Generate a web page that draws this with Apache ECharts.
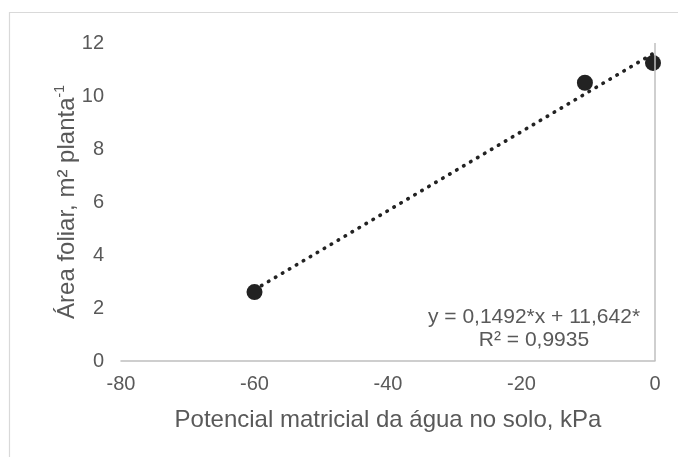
<!DOCTYPE html>
<html>
<head>
<meta charset="utf-8">
<script src="https://cdn.jsdelivr.net/npm/echarts@6/dist/echarts.min.js"></script>
<style>
  html, body { margin: 0; padding: 0; background: #fff; }
  #chart { width: 678px; height: 457px; }
</style>
</head>
<body>
<div id="chart"></div>
<script>
// Observed leaf area against soil matric potential
const potencialKPa = [-60, -10.5, -0.3];
const areaFoliar = [2.6, 10.5, 11.25];

// Linear fit reported for the data
const slope = 0.1492;
const intercept = 11.642;
const equationLines = ['y = 0,1492*x + 11,642*', 'R² = 0,9935'];

const xTicks = { min: -80, max: 0, interval: 20 };
const yTicks = { min: 0, max: 12, interval: 2 };

const FONT = '"Liberation Sans", Arial, sans-serif';
const TEXT = '#595959';
const AXIS = '#bfbfbf';
const MARK = '#222222';

const points = potencialKPa.map((x, i) => [x, areaFoliar[i]]);
const xFitMin = Math.min(...potencialKPa);
const xFitMax = Math.max(...potencialKPa);
const fitLine = [xFitMin, xFitMax].map(x => [x, slope * x + intercept]);

const chart = echarts.init(document.getElementById('chart'), null, { renderer: 'canvas' });

chart.setOption({
  animation: false,
  backgroundColor: '#fff',
  grid: { left: 121, right: 23, top: 43, bottom: 96, containLabel: false },
  xAxis: {
    type: 'value',
    min: xTicks.min, max: xTicks.max, interval: xTicks.interval,
    name: 'Potencial matricial da água no solo, kPa',
    nameLocation: 'middle',
    nameGap: 47,
    nameMoveOverlap: false,
    nameTextStyle: { fontFamily: FONT, fontSize: 24, color: TEXT },
    axisLine: { show: true, onZero: false, lineStyle: { color: AXIS, width: 1.5 } },
    axisTick: { show: false },
    splitLine: { show: false },
    axisLabel: { fontFamily: FONT, fontSize: 20, color: TEXT, margin: 13 }
  },
  yAxis: {
    type: 'value',
    min: yTicks.min, max: yTicks.max, interval: yTicks.interval,
    name: '{t|Área foliar, m² planta}{s|-1}',
    nameLocation: 'middle',
    nameGap: 40,
    nameMoveOverlap: false,
    nameRotate: 90,
    nameTextStyle: {
      fontFamily: FONT, fontSize: 24, color: TEXT,
      rich: {
        t: { fontFamily: FONT, fontSize: 24, color: TEXT, lineHeight: 28 },
        s: { fontFamily: FONT, fontSize: 14, color: TEXT, lineHeight: 28, verticalAlign: 'top', padding: [0, 0, 10, 0] }
      }
    },
    axisLine: { show: false },
    axisTick: { show: false },
    splitLine: { show: false },
    axisLabel: { fontFamily: FONT, fontSize: 20, color: TEXT, margin: 17 }
  },
  series: [
    {
      name: 'tendência',
      type: 'line',
      data: fitLine,
      symbol: 'none',
      silent: true,
      z: 3,
      lineStyle: { color: MARK, width: 3.6, type: [0.5, 7.6], cap: 'round' },
      markLine: {
        silent: true,
        symbol: 'none',
        label: { show: false },
        lineStyle: { color: AXIS, width: 1.5, type: 'solid' },
        data: [{ xAxis: 0 }]
      }
    },
    {
      name: 'Área foliar',
      type: 'scatter',
      data: points,
      symbol: 'circle',
      symbolSize: 16,
      z: 4,
      itemStyle: { color: MARK, opacity: 1 }
    }
  ],
  graphic: [
    {
      type: 'rect',
      silent: true,
      shape: { x: 9.5, y: 12.5, width: 720, height: 520 },
      style: { fill: 'none', stroke: '#d9d9d9', lineWidth: 1.2 }
    },
    {
      type: 'text',
      silent: true,
      x: 534, y: 329,
      style: {
        text: equationLines.join('\n'),
        fontFamily: FONT, fontSize: 21, fill: TEXT,
        align: 'center', verticalAlign: 'middle', lineHeight: 23
      }
    }
  ]
});
</script>
</body>
</html>
